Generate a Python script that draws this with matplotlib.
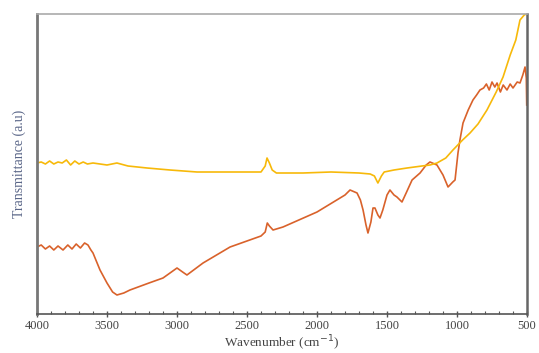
import matplotlib.pyplot as plt
import numpy as np

plt.rcParams['font.family'] = ['Liberation Serif', 'DejaVu Serif']

# yellow spectrum (wavenumber, pixel-height)
yellow_wn = [4000, 3970, 3940, 3910, 3880, 3850, 3820, 3790, 3760, 3730, 3700, 3670,
             3640, 3600, 3550, 3500, 3429, 3350, 3214, 3050, 2857, 2620, 2400, 2370,
             2357, 2340, 2320, 2290, 2100, 1900, 1700, 1620, 1590, 1565, 1540, 1520,
             1450, 1357, 1250, 1193, 1143, 1080, 1029, 960, 907, 850, 786, 720, 671,
             620, 580, 550, 520, 505]
yellow_px = [163, 162, 164, 161, 164, 162, 163, 160, 165, 161, 164, 162,
             164, 163, 164, 165, 163, 166, 168, 170, 172, 172, 172, 166,
             158, 163, 170, 173, 173, 172, 173, 174, 176, 183, 176, 172,
             170, 168, 166, 165, 163, 158, 150, 140, 133, 124, 110, 92, 77,
             55, 40, 20, 15, 14]

# orange spectrum
orange_wn = [4000, 3970, 3940, 3910, 3880, 3850, 3814, 3780, 3750, 3720, 3690, 3660,
             3636, 3615, 3600, 3550, 3500, 3460, 3429, 3380, 3336, 3200, 3100, 3000,
             2960, 2929, 2814, 2621, 2400, 2370, 2355, 2340, 2314, 2243, 2000, 1800,
             1764, 1714, 1690, 1671, 1650, 1636, 1615, 1600, 1586, 1565, 1550, 1530,
             1500, 1479, 1450, 1429, 1393, 1360, 1321, 1264, 1220, 1193, 1143, 1100,
             1064, 1030, 1014, 993, 979, 957, 920, 886, 860, 836, 810, 790, 770, 750,
             730, 714, 690, 670, 643, 620, 600, 570, 550, 530, 514, 505, 502]
orange_px = [247, 245, 249, 246, 250, 246, 250, 245, 249, 244, 248, 243,
             245, 250, 253, 270, 283, 292, 295, 293, 290, 283, 278, 268,
             272, 275, 263, 247, 236, 232, 223, 226, 230, 227, 212, 195,
             190, 193, 200, 210, 225, 233, 222, 208, 208, 215, 218, 210,
             195, 190, 195, 197, 202, 192, 180, 173, 165, 162, 165, 175,
             187, 182, 180, 153, 140, 123, 110, 100, 95, 90, 88, 84, 90, 82,
             87, 83, 92, 85, 90, 84, 88, 82, 83, 75, 67, 78, 105]

# convert to arbitrary transmittance
yellow_t = (314 - np.array(yellow_px)) / 3.0
orange_t = (314 - np.array(orange_px)) / 3.0

fig = plt.figure(figsize=(5.39, 3.53), dpi=100)
ax = fig.add_axes([37/539, 39/353, 490/539, 300/353])

ax.plot(orange_wn, orange_t, color='#d9622b', lw=1.2)
ax.plot(yellow_wn, yellow_t, color='#f7b90a', lw=1.2)

ax.set_xlim(4000, 500)
ax.set_ylim(0, 100)
ax.set_xticks(np.arange(4000, 499, -500))
ax.set_xticks(np.arange(4000, 499, -100), minor=True)
ax.set_yticks([])
ax.tick_params(axis='x', which='major', direction='inout', length=5, width=1,
               colors='#555555', labelsize=9, pad=2)
ax.tick_params(axis='x', which='minor', direction='in', length=2.5, width=0.8,
               colors='#555555')
for lab in ax.get_xticklabels():
    lab.set_color('#444444')

ax.spines['left'].set_color('#777777')
ax.spines['left'].set_linewidth(2)
ax.spines['right'].set_color('#666666')
ax.spines['right'].set_linewidth(1.8)
ax.spines['top'].set_color('#aaaaaa')
ax.spines['top'].set_linewidth(1.2)
ax.spines['bottom'].set_color('#555555')
ax.spines['bottom'].set_linewidth(1.2)

ax.set_xlabel('Wavenumber (cm$^{-1}$)', fontsize=9.5, color='#444444', labelpad=1)
ax.set_ylabel('Transmittance (a.u)', fontsize=10, color='#5a6688', labelpad=8)

fig.savefig('out.png', dpi=100)
